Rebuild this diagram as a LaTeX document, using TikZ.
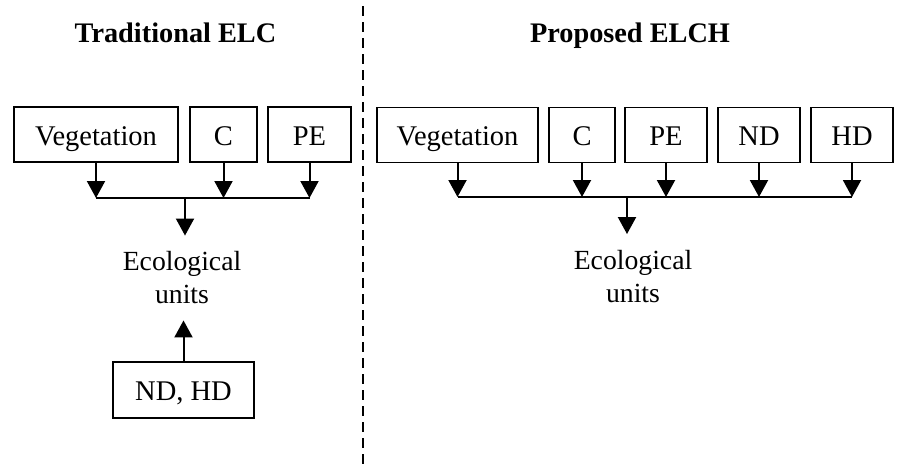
\documentclass[tikz,border=0pt]{standalone}
\usepackage{fontspec}
\setmainfont{Liberation Serif}
\usetikzlibrary{arrows.meta}
\begin{document}
\begin{tikzpicture}[x=1pt,y=-1pt,
  box/.style={draw,line width=1.5pt,minimum height=55pt,inner sep=0pt,text height=27.4pt,text depth=6pt,font=\fontsize{28.5}{33}\selectfont},
  arr/.style={line width=2pt,-{Triangle[width=18pt,length=17pt]}},
  conn/.style={line width=2pt},
  eco/.style={align=center,inner xsep=0pt,inner ysep=16pt,font=\fontsize{27.7}{33}\selectfont},
  ttl/.style={anchor=base,font=\fontsize{28.3}{33}\selectfont\bfseries}]
\useasboundingbox (0,0) rectangle (904,469);
% titles
\node[ttl] (t1) at (175.5,42.5) {Traditional ELC};
\node[ttl] (t2) at (630,42.5) {Proposed ELCH};
% divider
\coordinate (d1) at (363,6);
\coordinate (d2) at (363,466);
\draw[line width=2pt,dash pattern=on 10pt off 6pt] (d1) -- (d2);
% left boxes
\node[box,minimum width=164pt] (lveg) at (96,134.5) {Vegetation};
\node[box,minimum width=67pt] (lc) at (223.5,134.5) {C};
\node[box,minimum width=83pt] (lpe) at (309.5,134.5) {PE};
\coordinate (lj) at (185,198);
\draw[arr] (lveg.south) -- (lveg.south |- lj);
\draw[arr] (lc.south) -- (lc.south |- lj);
\draw[arr] (lpe.south) -- (lpe.south |- lj);
\draw[conn] (lveg.south |- lj) -- (lpe.south |- lj);
\node[eco] (leco) at (182,278) {Ecological\\units};
\draw[arr] (lj) -- (lj |- leco.north);
\node[box,minimum width=141pt,minimum height=56pt] (lndhd) at (183.5,390) {ND, HD};
\draw[arr] (lndhd.north) -- (lndhd.north |- leco.south);
% right boxes
\node[box,minimum width=161pt] (rveg) at (457.5,135) {Vegetation};
\node[box,minimum width=66pt] (rc) at (582,135) {C};
\node[box,minimum width=82pt] (rpe) at (666,135) {PE};
\node[box,minimum width=82pt] (rnd) at (759,135) {ND};
\node[box,minimum width=82pt] (rhd) at (852,135) {HD};
\coordinate (rj) at (627,197);
\draw[arr] (rveg.south) -- (rveg.south |- rj);
\draw[arr] (rc.south) -- (rc.south |- rj);
\draw[arr] (rpe.south) -- (rpe.south |- rj);
\draw[arr] (rnd.south) -- (rnd.south |- rj);
\draw[arr] (rhd.south) -- (rhd.south |- rj);
\draw[conn] (rveg.south |- rj) -- (rhd.south |- rj);
\node[eco] (reco) at (633,276.5) {Ecological\\units};
\draw[arr] (rj) -- (rj |- reco.north);
\end{tikzpicture}
\end{document}
